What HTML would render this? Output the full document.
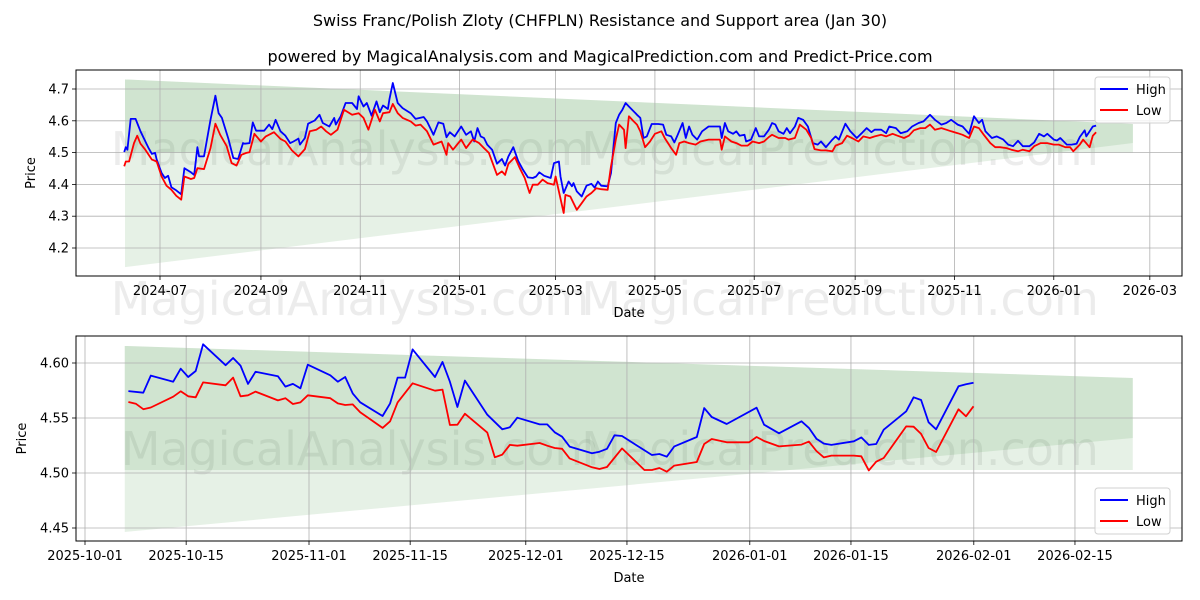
<!DOCTYPE html>
<html><head><meta charset="utf-8">
<style>
html,body{margin:0;padding:0;background:#fff;}
svg{display:block;font-family:"DejaVu Sans","Liberation Sans",sans-serif;}
</style></head>
<body>
<svg id="chart" width="1200" height="600" viewBox="0 0 1200 600" xmlns="http://www.w3.org/2000/svg">
<rect width="1200" height="600" fill="#fff"/>
<text x="600" y="26" text-anchor="middle" font-size="16" fill="#000">Swiss Franc/Polish Zloty (CHFPLN) Resistance and Support area (Jan 30)</text>
<text x="600" y="62" text-anchor="middle" font-size="16" fill="#000">powered by MagicalAnalysis.com and MagicalPrediction.com and Predict-Price.com</text>
<g id="top"></g>
<g id="bot"></g>
</svg>
<script>
// ===== TOP CHART DATA (days since 2024-07-01) =====
const topHighDays=[-22,-21,-20,-18,-15,-14,-12,-10,-7,-5,-3,-2,1,3,5,7,10,13,15,19,21,23,24,27,31,34,36,38,42,45,48,51,52,55,57,59,64,67,69,71,74,77,80,82,85,86,89,91,95,98,100,104,107,108,111,114,118,121,122,125,127,130,133,135,137,140,141,143,146,149,154,157,162,164,168,171,174,176,178,181,185,188,191,193,195,197,199,201,204,207,210,212,214,217,220,223,226,229,231,233,236,240,242,245,246,248,251,253,254,256,259,262,265,267,269,271,275,277,280,282,284,286,288,290,293,295,297,299,302,306,309,311,314,316,318,321,323,325,327,330,333,337,340,344,345,347,349,352,354,356,359,360,363,366,368,371,374,376,378,380,383,385,387,390,392,395,398,401,404,406,409,413,415,417,421,424,428,431,434,437,439,443,446,448,452,455,459,462,466,469,473,476,480,483,486,490,493,497,500,503,505,507,511,514,518,521,524,527,530,534,537,540,543,545,549,551,553,557,560,563,565,568,569,573,575];
const topHighVals=[4.502,4.517,4.509,4.606,4.606,4.593,4.567,4.546,4.514,4.496,4.499,4.478,4.436,4.420,4.427,4.391,4.381,4.369,4.451,4.438,4.430,4.517,4.488,4.488,4.603,4.679,4.624,4.609,4.543,4.483,4.480,4.530,4.528,4.530,4.595,4.569,4.569,4.588,4.574,4.603,4.567,4.553,4.530,4.535,4.544,4.525,4.546,4.591,4.601,4.619,4.593,4.582,4.609,4.588,4.614,4.656,4.656,4.637,4.677,4.645,4.656,4.616,4.661,4.627,4.648,4.637,4.669,4.719,4.656,4.640,4.624,4.606,4.612,4.598,4.556,4.595,4.591,4.548,4.564,4.551,4.582,4.556,4.567,4.535,4.577,4.551,4.546,4.525,4.509,4.465,4.480,4.459,4.488,4.517,4.474,4.446,4.422,4.420,4.425,4.438,4.427,4.420,4.467,4.472,4.425,4.373,4.409,4.394,4.404,4.378,4.362,4.396,4.402,4.390,4.409,4.396,4.394,4.436,4.593,4.619,4.635,4.656,4.645,4.635,4.619,4.609,4.546,4.551,4.590,4.590,4.588,4.556,4.551,4.532,4.556,4.593,4.546,4.582,4.556,4.541,4.567,4.582,4.582,4.582,4.546,4.593,4.567,4.559,4.567,4.553,4.556,4.535,4.541,4.577,4.551,4.551,4.572,4.593,4.588,4.567,4.559,4.577,4.561,4.582,4.609,4.603,4.582,4.530,4.525,4.535,4.517,4.541,4.551,4.541,4.591,4.567,4.546,4.561,4.577,4.564,4.572,4.572,4.561,4.582,4.577,4.561,4.567,4.582,4.593,4.598,4.619,4.603,4.588,4.593,4.603,4.588,4.582,4.559,4.614,4.593,4.603,4.567,4.546,4.551,4.541,4.525,4.520,4.537,4.520,4.520,4.532,4.559,4.551,4.559,4.541,4.538,4.546,4.525,4.525,4.528,4.549,4.570,4.551,4.582,4.585];
const topLowDays=[-22,-21,-19,-16,-14,-12,-9,-5,-2,1,4,7,10,13,15,19,21,23,27,31,34,37,41,44,47,50,53,55,58,62,65,70,74,77,81,85,89,92,96,99,102,105,109,113,118,122,125,128,132,135,137,141,143,146,149,154,157,160,164,168,173,176,177,180,185,188,192,196,199,202,207,210,212,214,218,221,224,227,229,232,235,238,242,243,245,248,249,252,256,259,262,265,268,271,275,277,280,282,285,286,288,291,293,295,298,301,304,308,310,314,317,319,322,325,329,332,337,344,345,347,351,354,357,361,364,368,371,374,376,380,384,386,390,393,397,400,402,406,409,413,415,419,422,425,429,432,436,439,443,446,450,453,457,460,463,467,470,473,476,480,483,486,490,493,497,500,503,506,510,513,516,520,523,527,530,534,537,541,545,549,552,556,559,561,565,567,571,573,575];
const topLowVals=[4.457,4.472,4.472,4.530,4.553,4.528,4.509,4.478,4.472,4.425,4.396,4.383,4.364,4.352,4.425,4.417,4.420,4.451,4.448,4.514,4.591,4.556,4.520,4.467,4.459,4.493,4.499,4.501,4.559,4.535,4.551,4.564,4.543,4.535,4.507,4.488,4.511,4.567,4.572,4.582,4.567,4.556,4.572,4.635,4.619,4.624,4.609,4.572,4.635,4.598,4.624,4.627,4.653,4.624,4.609,4.598,4.585,4.588,4.567,4.525,4.535,4.493,4.530,4.509,4.541,4.514,4.541,4.530,4.514,4.499,4.430,4.441,4.430,4.465,4.486,4.451,4.420,4.373,4.399,4.399,4.415,4.404,4.399,4.425,4.378,4.310,4.367,4.362,4.320,4.341,4.362,4.373,4.388,4.385,4.383,4.457,4.541,4.588,4.572,4.514,4.614,4.598,4.588,4.567,4.517,4.535,4.559,4.567,4.546,4.514,4.493,4.530,4.535,4.530,4.525,4.535,4.541,4.541,4.509,4.551,4.535,4.530,4.522,4.522,4.535,4.530,4.535,4.549,4.556,4.546,4.546,4.541,4.546,4.588,4.572,4.546,4.511,4.507,4.507,4.504,4.522,4.530,4.553,4.546,4.535,4.551,4.546,4.551,4.556,4.551,4.559,4.553,4.546,4.553,4.570,4.577,4.577,4.588,4.572,4.577,4.572,4.567,4.561,4.556,4.546,4.582,4.577,4.556,4.530,4.517,4.517,4.514,4.509,4.504,4.509,4.504,4.520,4.530,4.530,4.525,4.525,4.517,4.517,4.504,4.525,4.541,4.517,4.553,4.564];
const topBandDays=[-21.5,597.6];
const topResTop=[4.73,4.59];
const topResBottom=[4.50,4.50];
const topSupBottom=[4.14,4.53];
const topYTicks=[4.2,4.3,4.4,4.5,4.6,4.7];
const topXTickDays=[0,62,123,184,243,304,365,427,488,549,608];
const topXTickLabels=["2024-07","2024-09","2024-11","2025-01","2025-03","2025-05","2025-07","2025-09","2025-11","2026-01","2026-03"];

// ===== BOTTOM CHART DATA (days since 2025-10-01) =====
const botHighDays=[6,8,9,12,13,14,15,16,19,20,21,22,23,26,27,28,29,30,33,34,35,36,37,40,41,42,43,44,47,48,49,50,51,54,56,57,58,61,62,63,64,65,68,69,70,71,72,76,77,78,79,82,83,84,86,90,91,93,96,97,98,99,100,103,104,105,106,107,110,111,112,113,114,117,118,119];
const botHighVals=[4.5745,4.573,4.5885,4.583,4.5948,4.5873,4.5927,4.617,4.598,4.6045,4.5976,4.581,4.592,4.588,4.5785,4.581,4.577,4.5985,4.5888,4.583,4.5873,4.5724,4.5643,4.5518,4.5633,4.5867,4.5867,4.6124,4.5873,4.601,4.583,4.56,4.584,4.553,4.5397,4.5415,4.5503,4.5442,4.5442,4.537,4.533,4.524,4.518,4.5194,4.522,4.5343,4.5336,4.5164,4.5173,4.5148,4.5242,4.5327,4.559,4.5509,4.5445,4.5594,4.5439,4.5361,4.547,4.541,4.5312,4.5267,4.5255,4.5288,4.5324,4.5255,4.5264,4.5394,4.5561,4.5688,4.5664,4.5461,4.5397,4.5788,4.5806,4.5821];
const botLowDays=[6,7,8,9,12,13,14,15,16,19,20,21,22,23,26,27,28,29,30,33,34,35,36,37,40,41,42,44,47,48,49,50,51,54,55,56,57,58,61,62,63,64,65,68,69,70,72,75,76,77,78,79,82,83,84,86,89,90,91,93,96,97,98,99,100,103,104,105,106,107,110,111,112,113,114,117,118,119];
const botLowVals=[4.5645,4.563,4.558,4.5595,4.5694,4.5743,4.5697,4.5688,4.5824,4.5797,4.5867,4.5697,4.5706,4.574,4.566,4.568,4.5627,4.5642,4.5706,4.568,4.5633,4.5618,4.5624,4.5552,4.541,4.547,4.5642,4.5815,4.5748,4.5758,4.5436,4.5439,4.5539,4.5367,4.5143,4.5167,4.5255,4.5248,4.5273,4.5248,4.5227,4.522,4.5133,4.5052,4.5036,4.5055,4.5224,4.5027,4.5027,4.5045,4.5012,4.5067,4.51,4.5264,4.5309,4.5279,4.5279,4.5327,4.5291,4.5242,4.5258,4.5285,4.52,4.5142,4.5158,4.5158,4.5152,4.5024,4.5103,4.5136,4.5424,4.5421,4.5355,4.5227,4.5191,4.5579,4.5515,4.5606];
const botBandDays=[5.5,145];
const botResTop=[4.6155,4.5864];
const botResBottom=[4.5027,4.5027];
const botSupBottom=[4.4464,4.5318];
const botYTicks=[4.45,4.50,4.55,4.60];
const botYTickLabels=["4.45","4.50","4.55","4.60"];
const botXTickDays=[0,14,31,45,61,75,92,106,123,137];
const botXTickLabels=["2025-10-01","2025-10-15","2025-11-01","2025-11-15","2025-12-01","2025-12-15","2026-01-01","2026-01-15","2026-02-01","2026-02-15"];

const NS="http://www.w3.org/2000/svg";
function mk(parent,tag,attrs,text){const e=document.createElementNS(NS,tag);for(const k in attrs)e.setAttribute(k,attrs[k]);if(text!==undefined)e.textContent=text;parent.appendChild(e);return e;}

function drawPanel(g,cfg){
  const {L,R,T,B,xOf,yOf}=cfg;
  const dx=cfg.dataX||xOf;
  cfg.marks.forEach(m=>{
    const t=mk(g,'text',{x:m[1],y:m[2],'font-size':46,fill:'#808080','fill-opacity':0.15,'text-anchor':'middle'},m[0]);
    
    
  });
  const d0=cfg.bandDays[0],d1=cfg.bandDays[1];
  const res=mk(g,'polygon',{points:`${xOf(d0)},${yOf(cfg.resTop[0])} ${xOf(d1)},${yOf(cfg.resTop[1])} ${xOf(d1)},${yOf(cfg.resBottom[1])} ${xOf(d0)},${yOf(cfg.resBottom[0])}`,fill:'#2e8b2e','fill-opacity':0.12});
  
  
  const sup=mk(g,'polygon',{points:`${xOf(d0)},${yOf(cfg.resTop[0])} ${xOf(d1)},${yOf(cfg.resTop[1])} ${xOf(d1)},${yOf(cfg.supBottom[1])} ${xOf(d0)},${yOf(cfg.supBottom[0])}`,fill:'#2e8b2e','fill-opacity':0.12});
  
  
  cfg.yTicks.forEach((v,i)=>{
    const y=yOf(v);
    const gl=mk(g,'line',{x1:L,x2:R,y1:y,y2:y,stroke:'#b0b0b0','stroke-width':0.8});
    
    
    mk(g,'line',{x1:L-4,x2:L,y1:y,y2:y,stroke:'#000','stroke-width':0.8});
    const t=mk(g,'text',{x:L-7,y:y+4.5,'font-size':13,'text-anchor':'end',fill:'#000'},cfg.yLabels[i]);
    
    
  });
  cfg.xTicks.forEach((d,i)=>{
    const x=xOf(d);
    const gl=mk(g,'line',{x1:x,x2:x,y1:T,y2:B,stroke:'#b0b0b0','stroke-width':0.8});
    
    
    mk(g,'line',{x1:x,x2:x,y1:B,y2:B+4,stroke:'#000','stroke-width':0.8});
    const t=mk(g,'text',{x:x,y:B+19,'font-size':13,'text-anchor':'middle',fill:'#000'},cfg.xLabels[i]);
    
    
  });
  const hp=cfg.hiDays.map((d,i)=>dx(d).toFixed(1)+','+yOf(cfg.hiVals[i]).toFixed(1)).join(' ');
  const lp=cfg.loDays.map((d,i)=>dx(d).toFixed(1)+','+yOf(cfg.loVals[i]).toFixed(1)).join(' ');
  const hl=mk(g,'polyline',{points:hp,fill:'none',stroke:'#0000ff','stroke-width':1.8,'stroke-linejoin':'round'});
  
  
  const ll=mk(g,'polyline',{points:lp,fill:'none',stroke:'#ff0000','stroke-width':1.8,'stroke-linejoin':'round'});
  
  
  const fr=mk(g,'rect',{x:L,y:T,width:R-L,height:B-T,fill:'none',stroke:'#000','stroke-width':1});
  
  
  const yt=mk(g,'text',{x:0,y:0,'font-size':13,'text-anchor':'middle',transform:`translate(${cfg.yTitleX},${(T+B)/2}) rotate(-90)`},'Price');
  
  
  const xt=mk(g,'text',{x:(L+R)/2,y:B+41,'font-size':13,'text-anchor':'middle'},'Date');
  
  
  const lx=cfg.legX,ly=cfg.legY;
  const lg=mk(g,'g',{});
  
  
  mk(lg,'rect',{x:lx,y:ly,width:75,height:46,rx:3,fill:'#fff','fill-opacity':0.8,stroke:'#d0d0d0'});
  const e1=mk(lg,'g',{});
  
  
  mk(e1,'line',{x1:lx+5,x2:lx+33,y1:ly+12,y2:ly+12,stroke:'#0000ff','stroke-width':2});
  mk(e1,'text',{x:lx+41,y:ly+17,'font-size':13},'High');
  const e2=mk(lg,'g',{});
  
  
  mk(e2,'line',{x1:lx+5,x2:lx+33,y1:ly+33,y2:ly+33,stroke:'#ff0000','stroke-width':2});
  mk(e2,'text',{x:lx+41,y:ly+38,'font-size':13},'Low');
}

drawPanel(document.getElementById('top'),{
  L:76,R:1182,T:70,B:276,
  xOf:d=>160+1.628*d, yOf:v=>89+(4.7-v)*318,
  bandDays:topBandDays,resTop:topResTop,resBottom:topResBottom,supBottom:topSupBottom,
  yTicks:topYTicks,yLabels:topYTicks.map(v=>v.toFixed(1)),
  xTicks:topXTickDays,xLabels:topXTickLabels,
  hiDays:topHighDays,hiVals:topHighVals,loDays:topLowDays,loVals:topLowVals,
  yTitleX:35,legX:1095,legY:77,
  marks:[["MagicalAnalysis.com",350,165],["MagicalPrediction.com",840,165],["MagicalAnalysis.com",350,315],["MagicalPrediction.com",840,315]]
});
drawPanel(document.getElementById('bot'),{
  L:76,R:1182,T:336,B:541,
  xOf:d=>85+7.226*d,
  dataX:d=>85+7.226*(6+(d-6)*1.035),
  yOf:v=>363+(4.6-v)*1100,
  bandDays:botBandDays,resTop:botResTop,resBottom:botResBottom,supBottom:botSupBottom,
  yTicks:botYTicks,yLabels:botYTickLabels,
  xTicks:botXTickDays,xLabels:botXTickLabels,
  hiDays:botHighDays,hiVals:botHighVals,loDays:botLowDays,loVals:botLowVals,
  yTitleX:26,legX:1095,legY:488,
  marks:[["MagicalAnalysis.com",360,465],["MagicalPrediction.com",840,465]]
});
</script>
</body></html>
